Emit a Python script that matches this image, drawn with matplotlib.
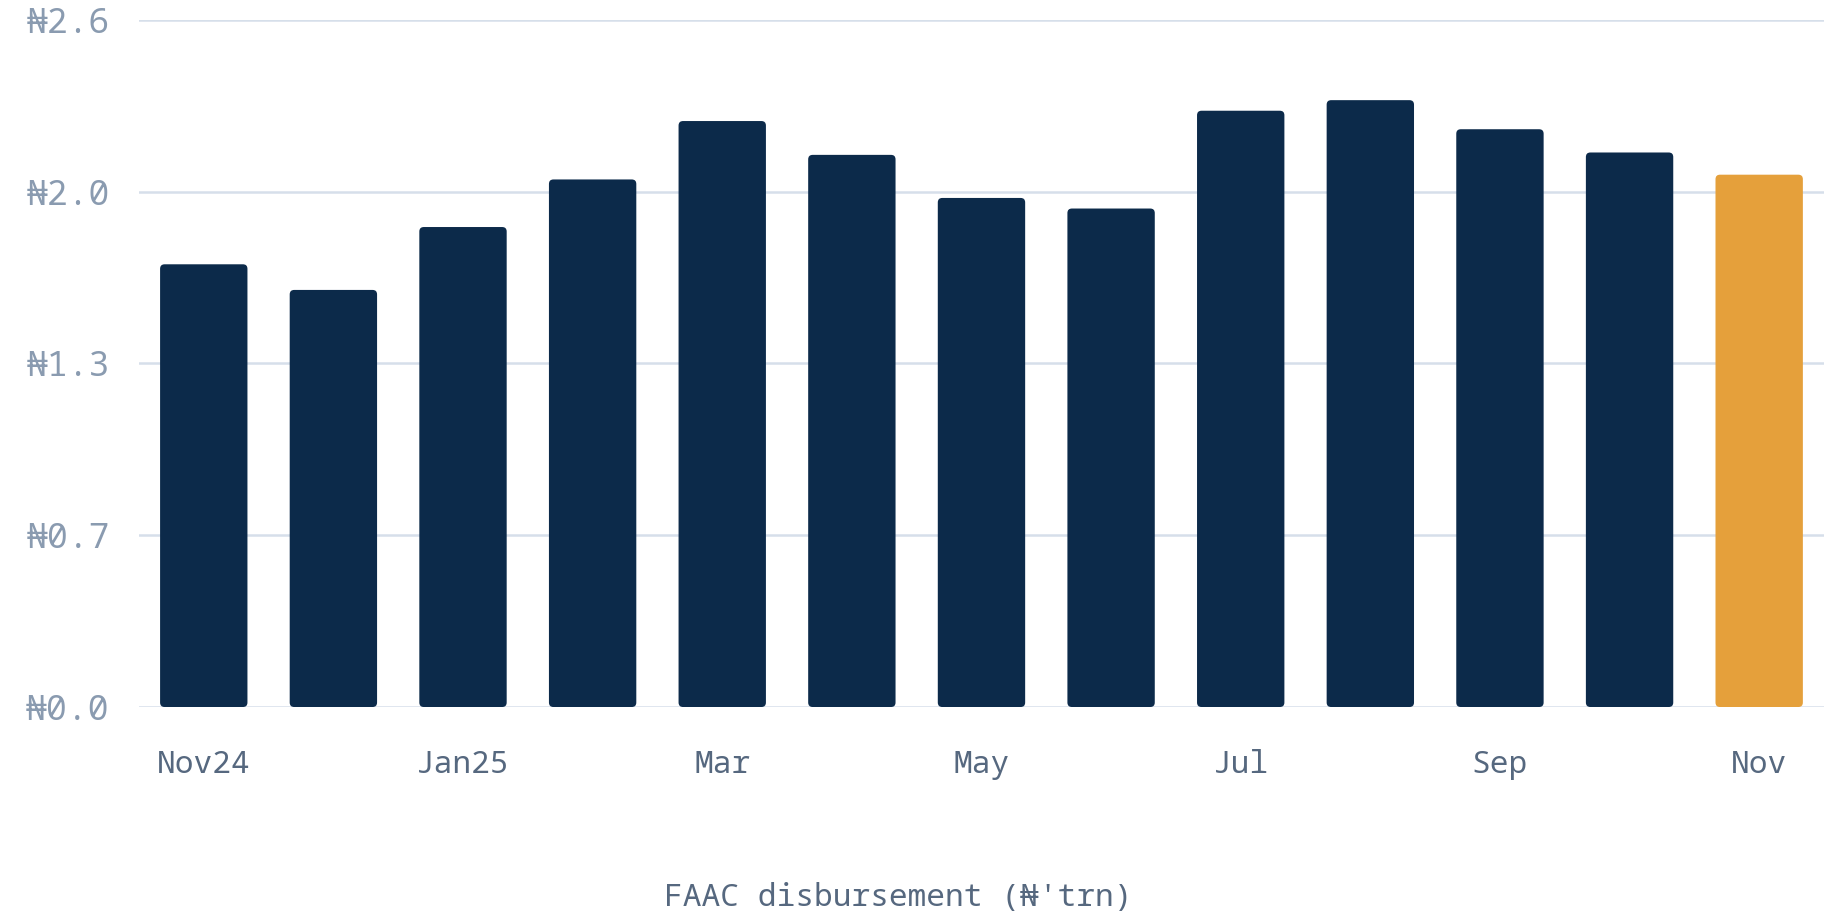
import matplotlib
matplotlib.use("Agg")
import matplotlib.pyplot as plt
from matplotlib.patches import FancyBboxPatch

plt.rcParams['font.family'] = ['Noto Sans Mono', 'DejaVu Sans Mono']

months = ['Nov24', 'Dec', 'Jan25', 'Feb', 'Mar', 'Apr', 'May',
          'Jun', 'Jul', 'Aug', 'Sep', 'Oct', 'Nov']
faac = [1.675, 1.578, 1.816, 1.996, 2.217, 2.089, 1.926,
        1.886, 2.256, 2.296, 2.186, 2.098, 2.014]
yticks = [0, 0.65, 1.3, 1.95, 2.6]
ytick_labels = ['₦0.0', '₦0.7', '₦1.3', '₦2.0', '₦2.6']

navy = '#0c2a4a'
orange = '#e5a03b'
colors = [navy] * (len(months) - 1) + [orange]

fig = plt.figure(figsize=(18.26, 9.17), dpi=100)
ax = fig.add_axes([0.0761, 0.229, 0.9228, 0.7494])

x = list(range(len(months)))
bars = ax.bar(x, faac, width=0.674, color=colors, zorder=2)
ax.set_xlim(-0.5, 12.5)
ax.set_ylim(0, 2.6)

# swap plain bars for ones with rounded corners
fig.canvas.draw()
bbox = ax.get_window_extent()
ux = 13 / bbox.width
uy = 2.6 / bbox.height
for b in bars:
    bx, by = b.get_x(), b.get_y()
    bw, bh = b.get_width(), b.get_height()
    p = FancyBboxPatch((bx, by), bw, bh,
                       boxstyle="round,pad=0,rounding_size=%f" % (4.5 * ux),
                       mutation_aspect=uy / ux,
                       facecolor=b.get_facecolor(), edgecolor='none', zorder=2)
    ax.add_patch(p)
    b.remove()

ax.set_yticks(yticks)
ax.set_yticklabels(ytick_labels)
ax.set_xticks(x[::2])
ax.set_xticklabels(months[::2])
ax.grid(axis='y', color='#d6dfea', linewidth=1.8, zorder=0)
ax.tick_params(axis='y', length=0, pad=21, labelsize=25, labelcolor='#8a9bb0')
ax.tick_params(axis='x', length=0, pad=30, labelsize=22.5, labelcolor='#56687f')
for s in ax.spines.values():
    s.set_visible(False)

fig.text(0.492, 0.021, "FAAC disbursement (₦'trn)", ha='center', va='center',
         fontsize=22.5, color='#56687f')

fig.savefig('out.png', dpi=100, facecolor='white')
